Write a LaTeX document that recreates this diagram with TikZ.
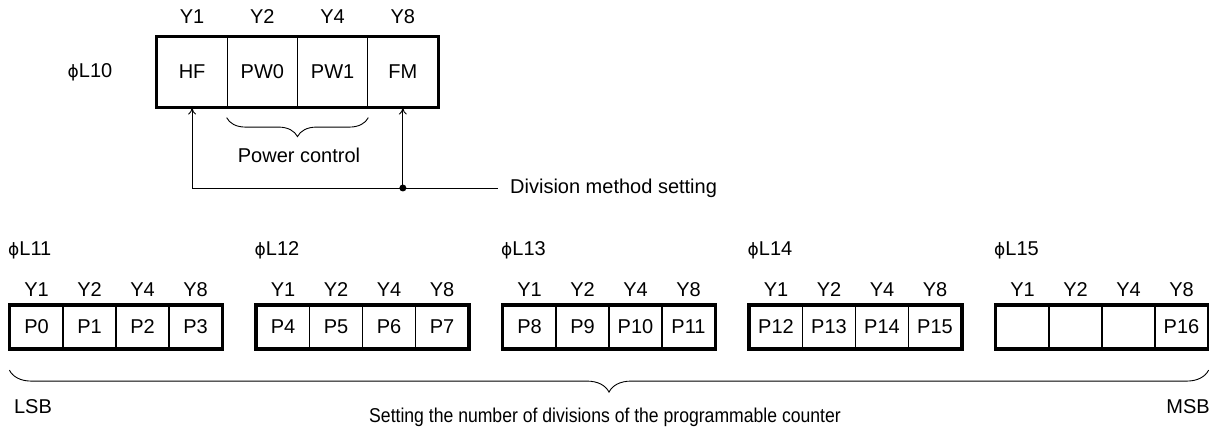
\documentclass[tikz,border=0pt]{standalone}
\usepackage{fontspec}
\setmainfont{Liberation Sans}
\newfontfamily\phifont{DejaVu Sans}
\newcommand{\phiL}{{\phifont\fontsize{17}{24}\selectfont ϕ}L}
\usetikzlibrary{arrows.meta,decorations.pathreplacing,calc}
\begin{document}
\begin{tikzpicture}[x=1pt,y=-1pt,
    every node/.style={font=\fontsize{20}{24}\selectfont},
    topcell/.style={draw,line width=1.2pt,minimum width=70.25pt,minimum height=70pt,inner sep=0pt},
    bitcell/.style={draw,line width=1.2pt,minimum width=53pt,minimum height=43pt,inner sep=0pt},
    frame/.style={line width=3.5pt},
    arr/.style={-{To[length=7pt,width=8pt]},line width=0.9pt},
    brace/.style={decorate,line width=0.9pt}]
  \useasboundingbox (0,0) rectangle (1209,427);

  % Register phiL10
  \node (l10) at (90,72) {\phiL10};
  \foreach \name/\txt/\yl [count=\i from 0] in {hf/HF/Y1,pw0/PW0/Y2,pw1/PW1/Y4,fm/FM/Y8} {
    \node[topcell] (\name) at ({192.1+70.25*\i},72) {\txt};
    \node (y-\name) at (\name.center |- 0,17) {\yl};
  }
  \draw[frame] (hf.south west) rectangle (fm.north east);

  % Power control brace
  \draw[brace,decoration={brace,amplitude=19pt}]
    ($(pw1.south east)+(0,10)$) -- ($(pw0.south west)+(0,10)$);
  \node (pwr) at (299,155) {Power control};

  % Division method setting
  \node[anchor=west,inner xsep=12pt] (divtxt) at (498,188) {Division method setting};
  \coordinate (dot) at (fm.south |- divtxt.west);
  \draw[line width=0.9pt] (hf.south |- dot) -- (divtxt.west);
  \draw[arr] (hf.south |- dot) -- (hf.south);
  \draw[arr] (dot) -- (fm.south);
  \fill (dot) circle (3.5pt);

  % Registers phiL11 to phiL15
  \foreach \r/\a/\b/\c/\d [count=\k from 0] in
      {11/P0/P1/P2/P3,12/P4/P5/P6/P7,13/P8/P9/P10/P11,14/P12/P13/P14/P15,15/{}/{}/{}/P16} {
    \pgfmathsetmacro\xl{10+246.5*\k}
    \node[anchor=west,inner xsep=0pt] (reg\r) at (\xl-2,250) {\phiL\r};
    \foreach \txt/\yl [count=\j from 0] in {\a/Y1,\b/Y2,\c/Y4,\d/Y8} {
      \node[bitcell] (p\r-\j) at ({\xl+26.5+53*\j},327) {\txt};
      \node (y\r-\j) at (p\r-\j.center |- 0,290) {\yl};
    }
    \draw[frame] (p\r-0.south west) rectangle (p\r-3.north east);
  }

  % Counter brace
  \draw[brace,decoration={brace,amplitude=22pt}]
    ($(p15-3.south east)+(0,21)$) -- ($(p11-0.south west)+(0,21)$);
  \node (lsb) at (33,407) {LSB};
  \node (msb) at (1188,407) {MSB};
  \node[xscale=0.88] (cnt) at (605,417) {Setting the number of divisions of the programmable counter};
\end{tikzpicture}
\end{document}
